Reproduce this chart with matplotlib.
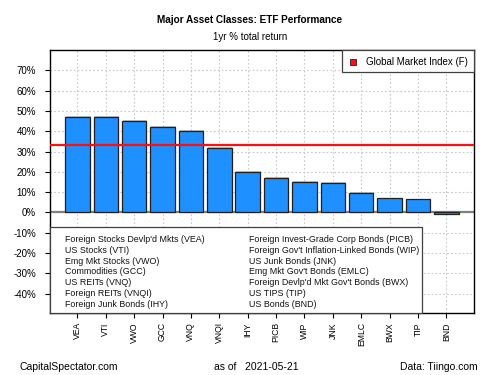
import matplotlib
matplotlib.use('Agg')
import matplotlib.pyplot as plt
import matplotlib.patheffects as pe
from matplotlib.patches import Rectangle
from matplotlib.lines import Line2D

plt.rcParams['font.family'] = ['Liberation Sans', 'DejaVu Sans']

# данные
tickers = ['VEA', 'VTI', 'VWO', 'GCC', 'VNQ', 'VNQI', 'IHY',
           'PICB', 'WIP', 'JNK', 'EMLC', 'BWX', 'TIP', 'BND']
returns = [47.2, 46.9, 44.9, 41.9, 40.3, 32.0, 19.8,
           17.0, 14.9, 14.6, 9.6, 6.9, 6.4, -0.7]
names_left = ["Foreign Stocks Devlp'd Mkts (VEA)", "US Stocks (VTI)",
              "Emg Mkt Stocks (VWO)", "Commodities (GCC)", "US REITs (VNQ)",
              "Foreign REITs (VNQI)", "Foreign Junk Bonds (IHY)"]
names_right = ["Foreign Invest-Grade Corp Bonds (PICB)",
               "Foreign Gov't Inflation-Linked Bonds (WIP)",
               "US Junk Bonds (JNK)", "Emg Mkt Gov't Bonds (EMLC)",
               "Foreign Devlp'd Mkt Gov't Bonds (BWX)", "US TIPS (TIP)",
               "US Bonds (BND)"]
gmi = 33.1
yticks = [-40, -30, -20, -10, 0, 10, 20, 30, 40, 50, 60, 70]

fig = plt.figure(figsize=(5, 3.75), dpi=100)
ax = fig.add_axes([0.099, 0.1653, 0.849, 0.7013])

x = list(range(len(tickers)))
ax.set_axisbelow(True)
ax.grid(True, color='#c8c8c8', linestyle=(0, (1.5, 2)), linewidth=0.8)
bars = ax.bar(x, returns, width=0.86, color='#1E90FF', edgecolor='#202020',
              linewidth=0.9, zorder=3)
for b in bars:
    b.set_path_effects([pe.SimplePatchShadow(offset=(0.7, 0.7), shadow_rgbFace='#a0a0a0', alpha=0.6),
                        pe.Normal()])
ax.axhline(0, color='#808080', linewidth=1.6, zorder=2)
ax.axhline(gmi, color='#FF1010', linewidth=1.6, zorder=4)

ax.set_xlim(-0.98, 13.97)
ax.set_ylim(-49.5, 80)
ax.set_xticks(x)
ax.set_xticklabels(tickers, rotation=90, fontsize=6.2)
ax.set_yticks(yticks)
ax.set_yticklabels([f'{v}%' for v in yticks], fontsize=7)
ax.tick_params(axis='both', direction='out', length=3.6, width=0.8)
ax.tick_params(axis='y', pad=6)
ax.tick_params(axis='x', pad=3)
for s in ax.spines.values():
    s.set_linewidth(1.0)

# легенда с названиями фондов
ax.add_patch(Rectangle((0, 0), 0.878, 0.328, transform=ax.transAxes,
                       facecolor='white', edgecolor='#404040', linewidth=0.9,
                       zorder=5, clip_on=False))
for i, (l, r) in enumerate(zip(names_left, names_right)):
    yy = 0.280 - i * (0.280 - 0.033) / 6
    ax.text(0.0365, yy, l, transform=ax.transAxes, fontsize=6.4, va='center',
            color='#111111', zorder=6)
    ax.text(0.4707, yy, r, transform=ax.transAxes, fontsize=6.4, va='center',
            color='#111111', zorder=6)

# легенда Global Market Index
ax.add_patch(Rectangle((0.688, 0.9175), 0.312, 0.0825, transform=ax.transAxes,
                       facecolor='white', edgecolor='#404040', linewidth=0.9,
                       zorder=5, clip_on=False))
ax.add_line(Line2D([0.715], [0.9555], transform=ax.transAxes, marker='s',
                   markersize=5, markerfacecolor='#FF1010',
                   markeredgecolor='#202020', markeredgewidth=0.6, zorder=6))
ax.text(0.7456, 0.9555, 'Global Market Index (F)', transform=ax.transAxes,
        fontsize=7, va='center', zorder=6)

fig.text(0.5, 0.947, 'Major Asset Classes: ETF Performance', ha='center',
         va='center', fontsize=7.2, fontweight='bold')
fig.text(0.5, 0.901, '1yr % total return', ha='center', va='center', fontsize=7)
fig.text(0.04, 0.022, 'CapitalSpectator.com', ha='left', va='center', fontsize=7.5)
fig.text(0.428, 0.022, 'as of   2021-05-21', ha='left', va='center', fontsize=7.5)
fig.text(0.955, 0.022, 'Data: Tiingo.com', ha='right', va='center', fontsize=7.5)

fig.savefig('out.png', dpi=100)
